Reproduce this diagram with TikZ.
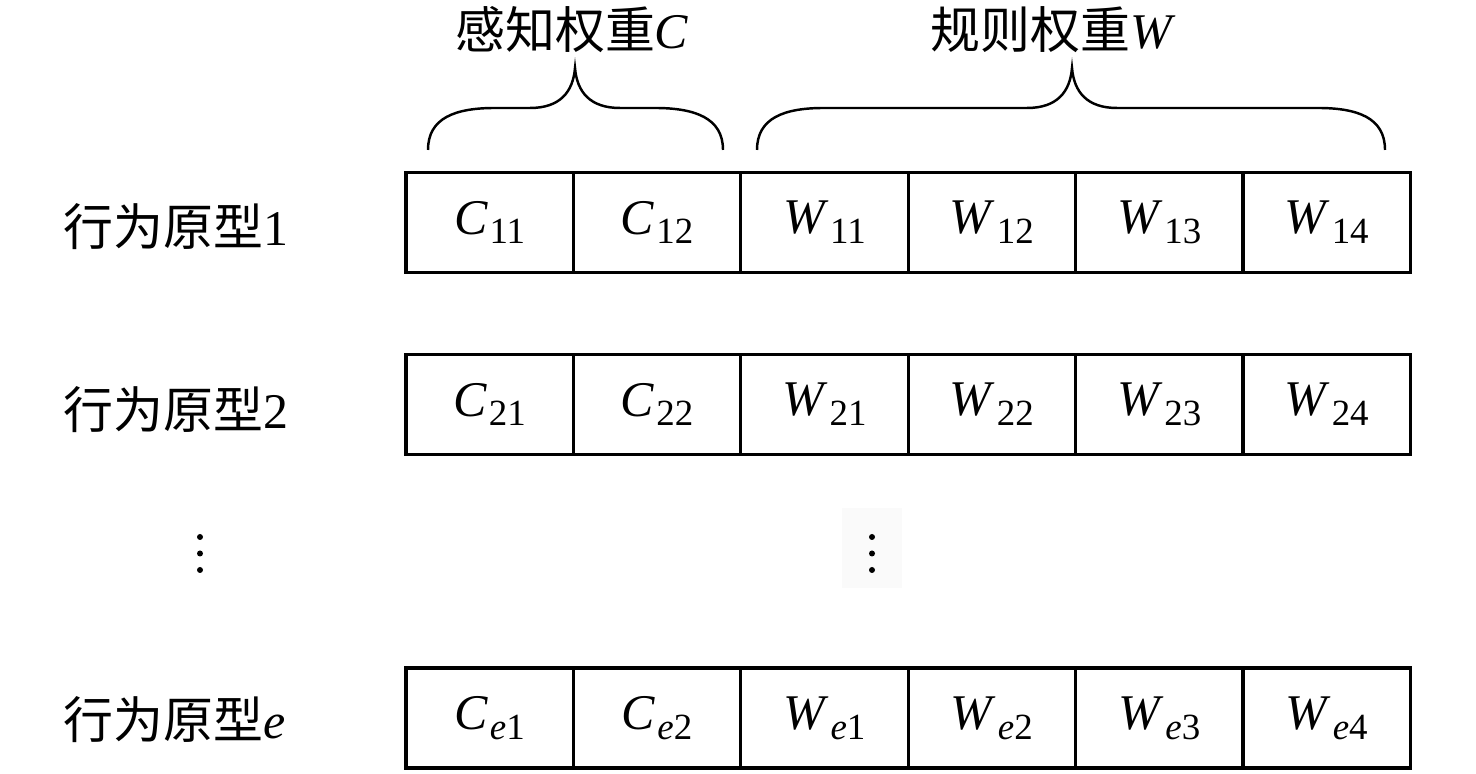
\documentclass[tikz,border=0pt]{standalone}
\usepackage{fontspec}
\setmainfont{Liberation Serif}
\newfontfamily\cjk{Noto Sans CJK SC}
\usetikzlibrary{positioning}

\newcommand{\wsub}[2]{\textit{#1}\kern0.5pt\raisebox{-2.8pt}{\fontsize{10.5}{11}\selectfont #2}}

\begin{document}
\begin{tikzpicture}[
    x=0.01cm, y=-0.01cm,
    node distance=0pt,
    cell/.style={
        draw, line width=0.9pt,
        minimum width=1.673cm,
        minimum height=1.0cm,
        inner sep=0pt, outer sep=0pt,
        font=\fontsize{14.2}{16}\selectfont
    },
    proto/.style={anchor=west, inner sep=0pt, font=\fontsize{14.2}{16}\selectfont},
    brace/.style={line width=0.7pt}
]
\useasboundingbox (0,0) rectangle (1476,774);

% row 1
\node[proto] (proto1) at (63,227) {{\cjk 行为原型}1};
\node[cell] (c11) at (489.65,222.5) {\wsub{C}{11}};
\node[cell, right=of c11] (c12) {\wsub{C}{12}};
\node[cell, right=of c12] (w11) {\wsub{W}{11}};
\node[cell, right=of w11] (w12) {\wsub{W}{12}};
\node[cell, right=of w12] (w13) {\wsub{W}{13}};
\node[cell, right=of w13] (w14) {\wsub{W}{14}};

% row 2
\node[proto] (proto2) at (63,410) {{\cjk 行为原型}2};
\node[cell] (c21) at (489.65,404.5) {\wsub{C}{21}};
\node[cell, right=of c21] (c22) {\wsub{C}{22}};
\node[cell, right=of c22] (w21) {\wsub{W}{21}};
\node[cell, right=of w21] (w22) {\wsub{W}{22}};
\node[cell, right=of w22] (w23) {\wsub{W}{23}};
\node[cell, right=of w23] (w24) {\wsub{W}{24}};

% row e
\node[proto] (protoe) at (63,720) {{\cjk 行为原型}\textit{e}};
\node[cell] (ce1) at (489.65,718) {\wsub{C}{\textit{e}1}};
\node[cell, right=of ce1] (ce2) {\wsub{C}{\textit{e}2}};
\node[cell, right=of ce2] (we1) {\wsub{W}{\textit{e}1}};
\node[cell, right=of we1] (we2) {\wsub{W}{\textit{e}2}};
\node[cell, right=of we2] (we3) {\wsub{W}{\textit{e}3}};
\node[cell, right=of we3] (we4) {\wsub{W}{\textit{e}4}};

% dots
\node[inner sep=0pt, fill=gray!4, minimum width=0.59cm, minimum height=0.79cm] (vdotsm) at (872,548) {};
\fill (200,537) circle (3) (200,553.5) circle (3) (200,570) circle (3);
\fill (872,537) circle (3) (872,553.5) circle (3) (872,570) circle (3);

% braces and their labels
\draw[brace] (428,150) .. controls (428,118) and (455,108) .. (495,108) -- (530,108)
    .. controls (560,108) and (573,92) .. (575,68)
    .. controls (577,92) and (590,108) .. (620,108) -- (655,108)
    .. controls (695,108) and (723,118) .. (723,150);
\draw[brace] (757,150) .. controls (757,118) and (784,108) .. (824,108) -- (1027,108)
    .. controls (1057,108) and (1070,92) .. (1072,68)
    .. controls (1074,92) and (1087,108) .. (1117,108) -- (1318,108)
    .. controls (1358,108) and (1385,118) .. (1385,150);
\node[inner sep=0pt, font=\fontsize{14.2}{16}\selectfont] (percw) at (572,30) {{\cjk 感知权重}\textit{C}};
\node[inner sep=0pt, font=\fontsize{14.2}{16}\selectfont] (rulew) at (1053,30) {{\cjk 规则权重}\textit{W}};
\end{tikzpicture}
\end{document}
